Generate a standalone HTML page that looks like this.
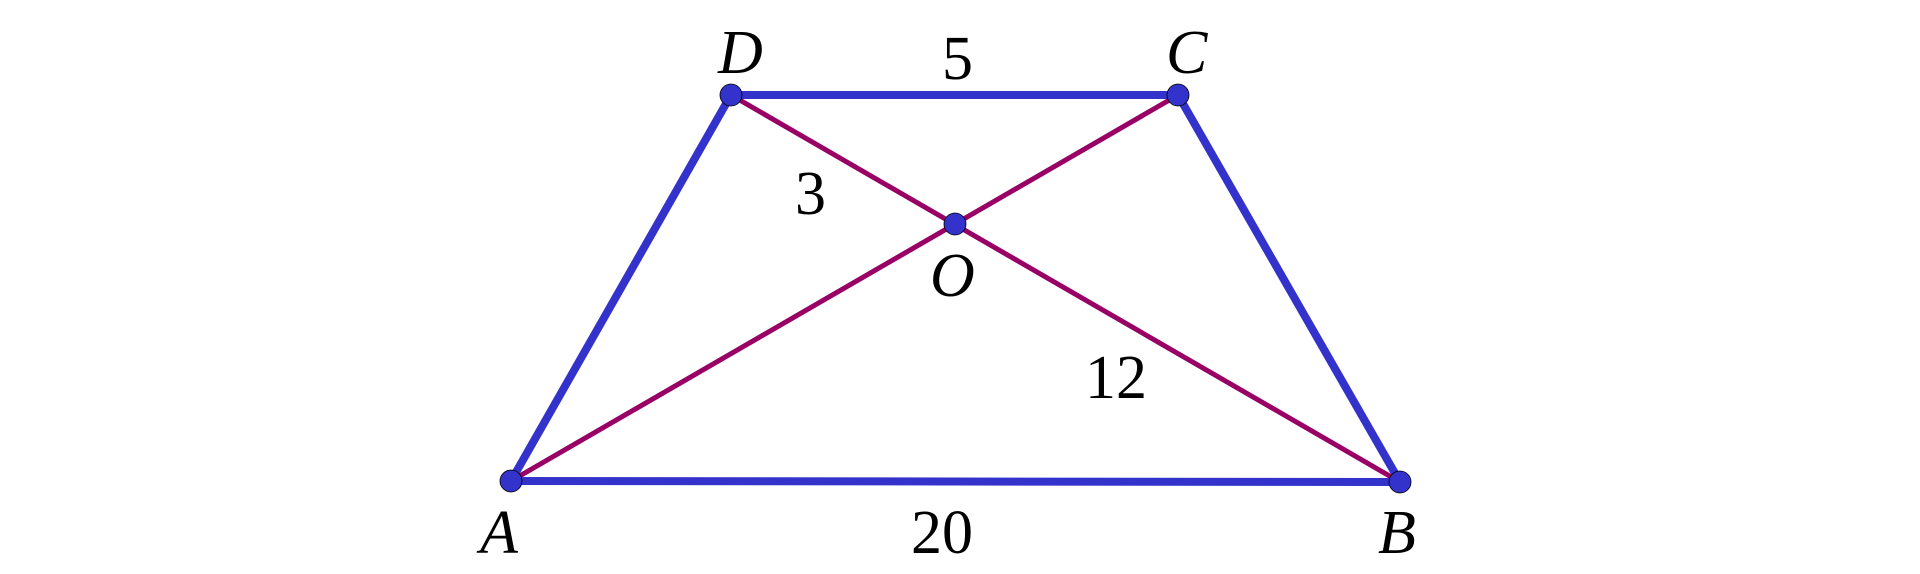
<!DOCTYPE html>
<html><head><style>
html,body{margin:0;padding:0;background:#fff;}
svg{display:block;}
text{font-family:"Liberation Serif",serif;font-size:62px;fill:#000;}
.i{font-style:italic;}
</style></head><body>
<svg width="1920" height="574" viewBox="0 0 1920 574">
<g stroke="#3333cc" stroke-width="8" stroke-linecap="round">
<line x1="511" y1="481" x2="1400" y2="482"/>
<line x1="731" y1="95" x2="1178" y2="95"/>
<line x1="511" y1="481" x2="731" y2="95"/>
<line x1="1400" y1="482" x2="1178" y2="95"/>
</g>
<g stroke="#990066" stroke-width="5">
<line x1="511" y1="481" x2="1178" y2="95"/>
<line x1="1400" y1="482" x2="731" y2="95"/>
</g>
<g fill="#3333cc" stroke="#000" stroke-width="0.8">
<circle cx="511" cy="481" r="11"/>
<circle cx="1400" cy="482" r="11"/>
<circle cx="1178" cy="95" r="11"/>
<circle cx="731" cy="95" r="11"/>
<circle cx="955" cy="224" r="11"/>
</g>
<text class="i" x="718" y="73">D</text>
<text class="i" x="1166" y="73">C</text>
<text x="942" y="79">5</text>
<text x="795" y="214">3</text>
<text class="i" x="930" y="296">O</text>
<text x="1085" y="398">12</text>
<text class="i" x="480" y="553">A</text>
<text x="911" y="553">20</text>
<text class="i" x="1378" y="553">B</text>
</svg>
</body></html>
